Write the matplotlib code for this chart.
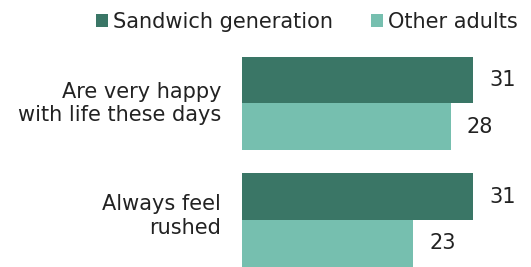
import matplotlib
matplotlib.use("Agg")
import matplotlib.pyplot as plt
from matplotlib.patches import Patch

categories = ["Are very happy\nwith life these days", "Always feel\nrushed"]
series_names = ["Sandwich generation", "Other adults"]
sandwich = [31, 31]
other = [28, 23]
colors = ["#3A7666", "#76BFAF"]

W, H = 531, 267
FS = 15
fig = plt.figure(figsize=(W / 100, H / 100), dpi=100)
ax = fig.add_axes([242 / W, 0, (W - 242) / W, 1])
ax.set_xlim(0, (W - 242) / 7.45)
ax.set_ylim(1.403, -0.885)
ax.axis("off")

h = 0.4
ys = list(range(len(categories)))
for i, (vals, c) in enumerate(zip([sandwich, other], colors)):
    offs = -h / 2 if i == 0 else h / 2
    pos = [y + offs for y in ys]
    ax.barh(pos, vals, height=h, color=c, edgecolor="none")
    for p, v in zip(pos, vals):
        ax.annotate(str(v), (v, p), xytext=(16, 0), textcoords="offset pixels",
                    ha="left", va="center", fontsize=FS, color="#222222")

label_dy = [0, 4]
for y, lab, dy in zip(ys, categories, label_dy):
    ax.annotate(lab, (0, y), xytext=(-21, dy), textcoords="offset pixels",
                ha="right", va="center", fontsize=FS, color="#222222",
                linespacing=1.22, annotation_clip=False)

handles = [Patch(facecolor=c, edgecolor="none") for c in colors]
fig.legend(handles, series_names, loc="center right",
           bbox_to_anchor=(518 / W, 1 - 21.5 / H),
           ncol=2, frameon=False, fontsize=FS, handlelength=0.58, handleheight=0.58,
           handletextpad=0.24, columnspacing=1.83, borderaxespad=0, borderpad=0,
           labelcolor="#222222")

fig.savefig("out.png", dpi=100)
